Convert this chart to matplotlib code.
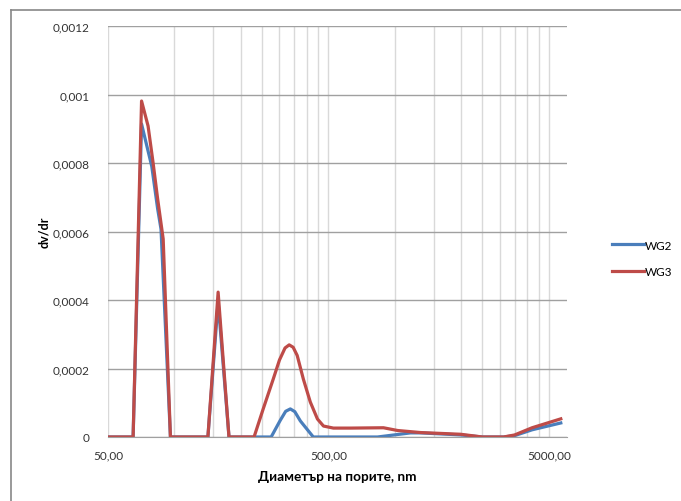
import matplotlib
matplotlib.use("Agg")
import matplotlib.pyplot as plt
from matplotlib.ticker import FixedLocator, NullFormatter, FixedFormatter
from matplotlib.lines import Line2D

# pore diameter, nm / dv/dr
d_wg2 = [50, 60, 65, 71, 79, 84, 87, 96, 142, 158, 177, 275, 302, 320, 336, 352,
         373, 427, 835, 1180, 1310, 2000, 2500, 3120, 3500, 4200, 5670]
v_wg2 = [0, 0, 0, 0.000914, 0.00079, 0.000666, 0.000607, 0, 0, 0.000395, 0,
         0, 0.000048, 0.000075, 0.000082, 0.000074, 0.000047, 0,
         0, 0.000012, 0.000012, 0.000006, 0, 0, 0.000004, 0.000021, 0.000041]

d_wg3 = [50, 60, 65, 71, 76, 80, 84, 89, 96, 142, 158, 177, 230, 253, 281, 300,
         318, 332, 346, 361, 385, 414, 446, 475, 527, 630, 889, 1030, 1310, 1990,
         2500, 3120, 3500, 4200, 5670]
v_wg3 = [0, 0, 0, 0.000981, 0.000908, 0.000803, 0.000695, 0.000578, 0, 0,
         0.000423, 0, 0, 0.0000818, 0.000169, 0.000225, 0.000260, 0.000269,
         0.000262, 0.000238, 0.000169, 0.000102, 0.0000526, 0.000032, 0.000026,
         0.000026, 0.000027, 0.000019, 0.000013, 0.000008, 0, 0, 0.000006,
         0.000027, 0.000053]

y_ticks = [0, 0.0002, 0.0004, 0.0006, 0.0008, 0.001, 0.0012]
y_labels = ["0", "0,0002", "0,0004", "0,0006", "0,0008", "0,001", "0,0012"]
x_major = [50, 500, 5000]
x_labels = ["50,00", "500,00", "5000,00"]
x_minor = [m * k for m in (50, 500, 5000) for k in range(2, 10)]

plt.rcParams['font.family'] = ['Lato', 'DejaVu Sans']

fig = plt.figure(figsize=(6.81, 5.02), dpi=100)
ax = fig.add_axes([108 / 681, 1 - 438 / 502, (567 - 108) / 681, (438 - 27) / 502])

ax.plot(d_wg2, v_wg2, color='#4a7ebb', lw=2.3, label='WG2', solid_joinstyle='round')
ax.plot(d_wg3, v_wg3, color='#be4b48', lw=2.3, label='WG3', solid_joinstyle='round')

ax.set_xscale('log')
ax.set_xlim(50, 6050)
ax.set_ylim(0, 0.0012)
ax.xaxis.set_major_locator(FixedLocator(x_major))
ax.xaxis.set_major_formatter(FixedFormatter(x_labels))
ax.xaxis.set_minor_locator(FixedLocator([v for v in x_minor if v < 6050]))
ax.xaxis.set_minor_formatter(NullFormatter())
ax.set_yticks(y_ticks)
ax.set_yticklabels(y_labels)

ax.grid(True, which='both', axis='x', color='#d9d9d9', lw=1)
ax.grid(True, which='major', axis='y', color='#a0a0a0', lw=1)
ax.set_axisbelow(True)
for s in ['top', 'right', 'left']:
    ax.spines[s].set_visible(False)
ax.spines['bottom'].set_color('#a0a0a0')
ax.tick_params(which='both', length=0, labelsize=8.5, colors='#333333')
ax.tick_params(axis='y', pad=13)
ax.tick_params(axis='x', pad=9)

ax.set_xlabel('Диаметър на порите, nm', fontsize=9.8, fontweight='bold', labelpad=7)
ax.set_ylabel('dv/dr', fontsize=9, fontweight='bold', labelpad=2)

ax.legend(loc='center left', bbox_to_anchor=(1.075, 0.435), frameon=False,
          fontsize=8.5, handlelength=2.7, handletextpad=0.1, labelspacing=1.3)

# chart area border
fig.add_artist(Line2D([11 / 681, 1], [1 - 11 / 502] * 2, color='#888888', lw=1.2))
fig.add_artist(Line2D([11 / 681] * 2, [0, 1 - 11 / 502], color='#888888', lw=1.2))

fig.savefig('out.png', dpi=100)
